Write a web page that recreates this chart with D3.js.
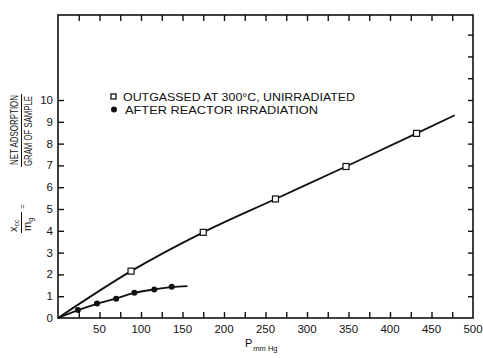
<!DOCTYPE html>
<html lang="en">
<head>
    <meta charset="UTF-8">
    <title>Net adsorption vs pressure</title>
    <style>
        body {
            margin: 0;
            background: #fff;
        }
        text {
            font-family: 'Liberation Sans', Arial, sans-serif;
            fill: #111;
        }
    </style>
</head>
<body>
    <div id="chart"></div>
    <script src="https://d3js.org/d3.v7.min.js"></script>
    <script>
        // values
        var unirrP = [88, 175, 262, 347, 432];
        var unirrX = [2.15, 3.93, 5.46, 6.95, 8.47];
        var unirrCurveP = [0, 88, 175, 262, 347, 432, 478];
        var unirrCurveX = [0, 2.15, 3.93, 5.46, 6.95, 8.47, 9.3];

        var irrP = [24, 47, 70, 92, 116, 137];
        var irrX = [0.37, 0.66, 0.88, 1.16, 1.31, 1.43];
        var irrCurveP = [0, 24, 47, 70, 92, 116, 137, 156];
        var irrCurveX = [0, 0.36, 0.65, 0.9, 1.15, 1.31, 1.42, 1.46];

        var xTickLabels = [50, 100, 150, 200, 250, 300, 350, 400, 450, 500];
        var yTickLabels = [0, 1, 2, 3, 4, 5, 6, 7, 8, 9, 10];
        var legendLabels = ["OUTGASSED AT 300\u00B0C, UNIRRADIATED", "AFTER REACTOR IRRADIATION"];

        var W = 483, H = 358;
        var svg = d3.select("#chart").append("svg")
            .attr("width", W)
            .attr("height", H);

        var x = d3.scaleLinear().domain([0, 500]).range([58, 473]);
        var y = d3.scaleLinear().domain([0, 13.9]).range([318, 15]);

        // frame
        svg.append("rect")
            .attr("x", x(0)).attr("y", y(13.9))
            .attr("width", x(500) - x(0))
            .attr("height", y(0) - y(13.9))
            .attr("fill", "none")
            .attr("stroke", "#111")
            .attr("stroke-width", 1.6);

        // inward ticks
        var minorX = d3.range(25, 500, 25);
        svg.append("g")
            .attr("transform", "translate(0," + y(0) + ")")
            .call(d3.axisTop(x).tickValues(minorX).tickSize(6).tickFormat(""))
            .call(g => g.select(".domain").remove());
        svg.append("g")
            .attr("transform", "translate(0," + y(13.9) + ")")
            .call(d3.axisBottom(x).tickValues(minorX).tickSize(6).tickFormat(""))
            .call(g => g.select(".domain").remove());
        svg.append("g")
            .attr("transform", "translate(" + x(0) + ",0)")
            .call(d3.axisRight(y).tickValues(d3.range(1, 11)).tickSize(6).tickFormat(""))
            .call(g => g.select(".domain").remove());
        svg.append("g")
            .attr("transform", "translate(" + x(500) + ",0)")
            .call(d3.axisLeft(y).tickValues(d3.range(1, 14)).tickSize(5).tickFormat(""))
            .call(g => g.select(".domain").remove());
        svg.selectAll(".tick line").attr("stroke", "#111").attr("stroke-width", 1.4);

        // tick labels
        svg.append("g")
            .selectAll("text")
            .data(xTickLabels)
            .enter().append("text")
            .attr("x", d => x(d))
            .attr("y", 333)
            .attr("text-anchor", "middle")
            .style("font-size", "11.5px")
            .text(d => d);

        svg.append("g")
            .selectAll("text")
            .data(yTickLabels)
            .enter().append("text")
            .attr("x", 53)
            .attr("y", d => y(d) + 4)
            .attr("text-anchor", "end")
            .style("font-size", "11.5px")
            .text(d => d);

        // curves
        var line = d3.line()
            .x(d => x(d[0]))
            .y(d => y(d[1]))
            .curve(d3.curveMonotoneX);

        svg.append("path")
            .datum(d3.zip(unirrCurveP, unirrCurveX))
            .attr("d", line)
            .attr("fill", "none")
            .attr("stroke", "#111")
            .attr("stroke-width", 1.8);

        svg.append("path")
            .datum(d3.zip(irrCurveP, irrCurveX))
            .attr("d", line)
            .attr("fill", "none")
            .attr("stroke", "#111")
            .attr("stroke-width", 1.8);

        // markers
        svg.selectAll(".sq")
            .data(d3.zip(unirrP, unirrX))
            .enter().append("rect")
            .attr("class", "sq")
            .attr("x", d => x(d[0]) - 3)
            .attr("y", d => y(d[1]) - 3)
            .attr("width", 6)
            .attr("height", 6)
            .attr("fill", "#fff")
            .attr("stroke", "#111")
            .attr("stroke-width", 1.2);

        svg.selectAll(".dot")
            .data(d3.zip(irrP, irrX))
            .enter().append("circle")
            .attr("class", "dot")
            .attr("cx", d => x(d[0]))
            .attr("cy", d => y(d[1]))
            .attr("r", 3)
            .attr("fill", "#111");

        // legend
        svg.append("rect")
            .attr("x", 111).attr("y", 94)
            .attr("width", 5).attr("height", 5)
            .attr("fill", "#fff")
            .attr("stroke", "#111")
            .attr("stroke-width", 1.3);
        svg.append("circle")
            .attr("cx", 114).attr("cy", 109.5)
            .attr("r", 3)
            .attr("fill", "#111");

        svg.append("text")
            .attr("x", 123).attr("y", 101)
            .attr("textLength", 232)
            .attr("lengthAdjust", "spacingAndGlyphs")
            .style("font-size", "11px")
            .text(legendLabels[0]);
        svg.append("text")
            .attr("x", 125).attr("y", 113.5)
            .attr("textLength", 193)
            .attr("lengthAdjust", "spacingAndGlyphs")
            .style("font-size", "11px")
            .text(legendLabels[1]);

        // x label
        var xl = svg.append("text")
            .attr("x", 245).attr("y", 347)
            .style("font-size", "11px");
        xl.append("tspan").text("P");
        xl.append("tspan").attr("dx", 1).attr("dy", 4).style("font-size", "7.5px").text("mm Hg");

        // y label (rotated fraction)
        var yl = svg.append("g").attr("transform", "rotate(-90)");
        yl.append("text")
            .attr("x", -130).attr("y", 18)
            .attr("text-anchor", "middle")
            .attr("textLength", 70)
            .attr("lengthAdjust", "spacingAndGlyphs")
            .style("font-size", "11px")
            .text("NET ADSORPTION");
        yl.append("line")
            .attr("x1", -167).attr("x2", -94)
            .attr("y1", 21.5).attr("y2", 21.5)
            .attr("stroke", "#111").attr("stroke-width", 1);
        yl.append("text")
            .attr("x", -131).attr("y", 32)
            .attr("text-anchor", "middle")
            .attr("textLength", 70)
            .attr("lengthAdjust", "spacingAndGlyphs")
            .style("font-size", "11px")
            .text("GRAM OF SAMPLE");
        var num = yl.append("text")
            .attr("x", -232).attr("y", 17)
            .style("font-size", "11px");
        num.append("tspan").text("x");
        num.append("tspan").attr("dy", 2).style("font-size", "7px").text("cc");
        var den = yl.append("text")
            .attr("x", -231).attr("y", 31)
            .style("font-size", "11px");
        den.append("tspan").text("m");
        den.append("tspan").attr("dy", 2).style("font-size", "7px").text("g");
        yl.append("line")
            .attr("x1", -233).attr("x2", -212)
            .attr("y1", 21.5).attr("y2", 21.5)
            .attr("stroke", "#111").attr("stroke-width", 1);
        yl.append("text")
            .attr("x", -209).attr("y", 24.5)
            .style("font-size", "8px")
            .text("=");
    </script>
</body>
</html>
